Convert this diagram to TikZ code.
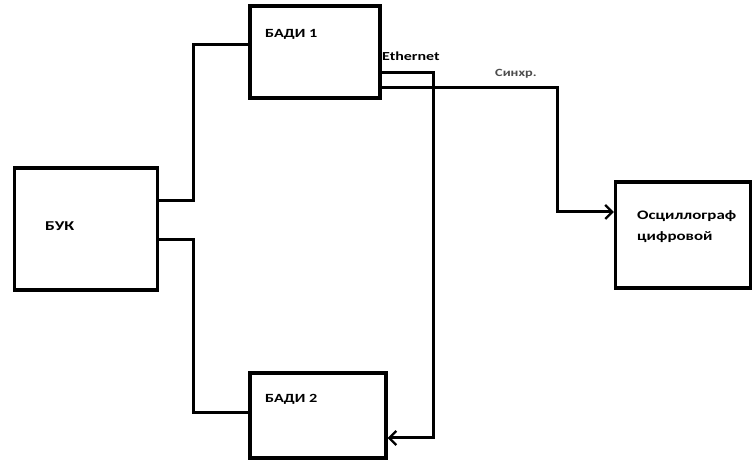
\documentclass[tikz,border=0pt]{standalone}
\usepackage{fontspec}
\setmainfont{Carlito}
\newfontfamily\lblfont[FakeStretch=1.3]{Carlito}
\usetikzlibrary{arrows.meta}
\begin{document}
\begin{tikzpicture}[x=1pt,y=-1pt,
  box/.style={draw,line width=3.4pt,minimum width=#1,inner sep=0pt},
  wire/.style={line width=3pt,line join=miter},
  lbl/.style={font=\lblfont\bfseries\fontsize{12.5}{14}\selectfont,anchor=base west,inner sep=0pt},
  tip/.style={-{Straight Barb[length=7pt,width=14pt,line width=2.2pt]}}]
\useasboundingbox[fill=white] (0,0) rectangle (753,470);
\node[box=143pt,minimum height=122pt] (buk) at (86,229) {};
\node[box=130pt,minimum height=92pt] (b1) at (315,52) {};
\node[box=136pt,minimum height=85pt] (b2) at (318,415.5) {};
\node[box=135pt,minimum height=106pt] (osc) at (683,235) {};
\node[lbl,font=\lblfont\bfseries\fontsize{13.5}{14}\selectfont] (tbuk) at (45,231) {БУК};
\node[lbl] (tb1) at (265,38) {БАДИ 1};
\node[lbl] (tb2) at (265,403) {БАДИ 2};
\node[lbl,font=\lblfont\bfseries\fontsize{13}{14}\selectfont] (tosc1) at (637,220) {Осциллограф};
\node[lbl,font=\lblfont\bfseries\fontsize{13}{14}\selectfont] (tosc2) at (637,241) {цифровой};
\node[lbl,font=\lblfont\bfseries\fontsize{12.3}{12}\selectfont] (teth) at (382,61) {Ethernet};
\node[lbl,font=\lblfont\bfseries\fontsize{11}{12}\selectfont,text=black!70] (tsync) at (495,77) {Синхр.};
\coordinate (bukA) at ([yshift=28pt]buk.east);
\coordinate (bukB) at ([yshift=-11pt]buk.east);
\coordinate (b1L) at ([yshift=7pt]b1.west);
\coordinate (b2L) at ([yshift=2.5pt]b2.west);
\coordinate (b1E) at ([yshift=-21pt]b1.east);
\coordinate (b1S) at ([yshift=-36pt]b1.east);
\coordinate (b2E) at ([yshift=-22.5pt]b2.east);
\coordinate (oscW) at ([yshift=23pt]osc.west);
\draw[wire] (bukA) -- (193,0 |- bukA) -- (193,0 |- b1L) -- (b1L);
\draw[wire] (bukB) -- (193,0 |- bukB) -- (193,0 |- b2L) -- (b2L);
\draw[wire,tip] (b1E) -- (433,0 |- b1E) -- (433,0 |- b2E) -- (b2E);
\draw[wire,tip] (b1S) -- (557,0 |- b1S) -- (557,0 |- oscW) -- (oscW);
\end{tikzpicture}
\end{document}
